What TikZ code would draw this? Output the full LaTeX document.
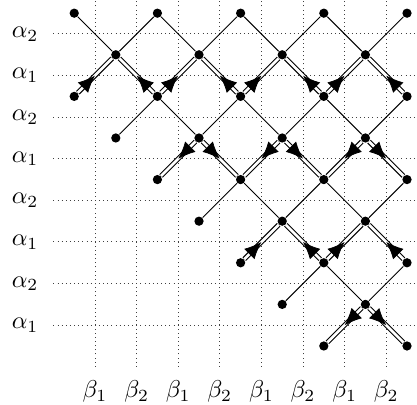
\documentclass[tikz,border=0pt]{standalone}
\usetikzlibrary{arrows.meta,calc}
\begin{document}
\begin{tikzpicture}[x=0.6cm,y=0.6cm,
  dot/.style={circle,fill=black,inner sep=0pt,minimum size=3.8pt},
  gridline/.style={black!75,line width=0.4pt,dash pattern=on 0.4pt off 1.3pt},
  thinline/.style={line width=0.4pt},
  dbl/.style={double,double distance=1.1pt,line width=0.45pt},
  arrowtip/.style={draw=white,line width=0.3pt,-{Latex[length=7pt,width=6pt,color=black]}},
  lab/.style={inner sep=0pt}]
\useasboundingbox (-2.284,-8.918) rectangle (7.740,0.817);
\clip (-2.284,-8.918) rectangle (7.740,0.817);
% dotted grid
\foreach \i in {0,...,7} \draw[gridline] (\i,-8) -- (\i,0.85);
\foreach \j in {0,...,7} \draw[gridline] (-1,-\j) -- (7.75,-\j);
% labels
\foreach \j/\k in {0/2,1/1,2/2,3/1,4/2,5/1,6/2,7/1}
  \node[lab] (a\j) at (-1.68,-\j) {$\alpha_{\k}$};
\foreach \i/\k in {0/1,1/2,2/1,3/2,4/1,5/2,6/1,7/2}
  \node[lab] (b\i) at (\i,-8.6) {$\beta_{\k}$};
% vertices
\foreach \p/\q in {0/0,2/0,4/0,6/0,8/0,
                   1/1,3/1,5/1,7/1,
                   0/2,2/2,4/2,6/2,8/2,
                   1/3,3/3,5/3,7/3,
                   2/4,4/4,6/4,8/4,
                   3/5,5/5,7/5,
                   4/6,6/6,8/6,
                   5/7,7/7,
                   6/8,8/8}
  \node[dot] (n\p\q) at ({\p-0.5},{0.5-\q}) {};
% single edges
\foreach \u/\v in {n00/n11,n20/n11,n20/n31,n40/n31,n40/n51,n60/n51,n60/n71,n80/n71,
                   n22/n13,n22/n33,n42/n33,n42/n53,n62/n53,n62/n73,n82/n73,
                   n44/n35,n44/n55,n64/n55,n64/n75,n84/n75,
                   n66/n57,n66/n77,n86/n77}
  \draw[thinline] (\u) -- (\v);
% double edges, arrow pointing from first to second node, tip at the middle
\foreach \u/\v in {n02/n11,n22/n11,n22/n31,n42/n31,n42/n51,n62/n51,n62/n71,n82/n71,
                   n33/n24,n33/n44,n53/n44,n53/n64,n73/n64,n73/n84,
                   n46/n55,n66/n55,n66/n75,n86/n75,
                   n77/n68,n77/n88}
  {\draw[dbl] (\u) -- (\v);
   \draw[arrowtip] ($(\u)!0.2!(\v)$) -- ($(\u)!0.5!(\v)$);}
\end{tikzpicture}
\end{document}
